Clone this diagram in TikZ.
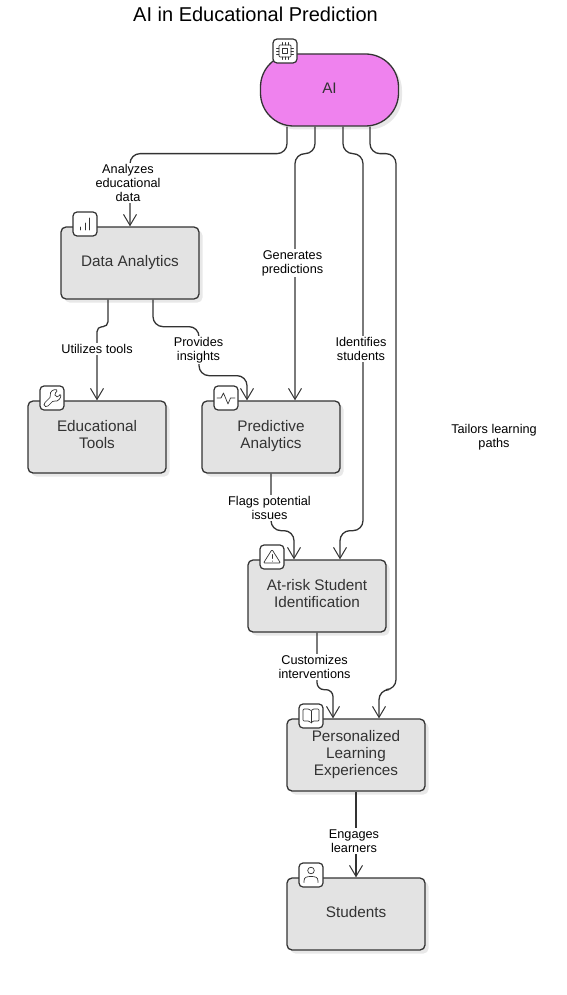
\documentclass[tikz,border=0pt]{standalone}
\usepackage{fontspec}
\setmainfont{Liberation Sans}
\usepackage{xcolor}
\usetikzlibrary{arrows.meta,shadows}
\definecolor{boxgray}{RGB}{227,227,227}
\definecolor{aipink}{RGB}{239,130,238}
\definecolor{linedark}{RGB}{51,51,51}
\newcommand{\boxtext}[1]{\raisebox{1.2pt}{\begin{tabular}{@{}c@{}}#1\end{tabular}}}

\begin{document}
\begin{tikzpicture}[x=1pt,y=-1pt,
    block/.style={rectangle, draw=linedark, line width=1.3pt, fill=boxgray, text=linedark, text centered, align=center, rounded corners=5pt, minimum width=138pt, minimum height=72pt, inner sep=0pt, font=\fontsize{15.3}{17}\selectfont, drop shadow={shadow xshift=3.5pt, shadow yshift=-3.5pt, fill=black!9, opacity=1}},
    aiblock/.style={block, fill=aipink, rounded corners=33pt},
    iconbox/.style={rectangle, draw=linedark, line width=1.2pt, fill=white, rounded corners=4pt, minimum size=24pt, inner sep=0pt},
    icon/.style={draw=linedark, line width=0.7pt, line cap=round, line join=round},
    arrow/.style={draw=linedark, line width=1.3pt, rounded corners=10pt, -{Straight Barb[length=11pt,width=13pt,line width=1pt]}},
    edgelabel/.style={fill=white, align=center, inner sep=1pt, text=black, font=\fontsize{12.7}{14.2}\selectfont}
]
\useasboundingbox (0,0) rectangle (566,995);

\node[font=\fontsize{20}{23}\selectfont] (title) at (255.5,14) {AI in Educational Prediction};

\node[aiblock] (ai) at (329.5,90) {\boxtext{AI}};
\node[block] (analytics) at (130,263) {\boxtext{Data Analytics}};
\node[block] (tools) at (97,437) {\boxtext{Educational\\Tools}};
\node[block] (predictive) at (271,437) {\boxtext{Predictive\\Analytics}};
\node[block] (atrisk) at (317,596) {\boxtext{At-risk Student\\Identification}};
\node[block] (learning) at (356,755) {\boxtext{Personalized\\Learning\\Experiences}};
\node[block] (students) at (356,914) {\boxtext{Students}};

\draw[arrow] ([xshift=-42.5pt]ai.south) -- ++(0,27) -| (analytics.north);
\draw[arrow] ([xshift=-14.5pt]ai.south) -- ++(0,27) -| ([xshift=24pt]predictive.north);
\draw[arrow] ([xshift=13.5pt]ai.south) -- ++(0,27) -| ++(20,377) -| ([xshift=23pt]atrisk.north);
\draw[arrow] ([xshift=40.5pt]ai.south) -- ++(0,27) -| ++(26,536) -| ([xshift=23pt]learning.north);
\draw[arrow, rounded corners=5pt] ([xshift=-22pt]analytics.south) -- ++(0,27) -| (tools.north);
\draw[arrow] ([xshift=23pt]analytics.south) -- ++(0,27) -| ++(46,49) -| ([xshift=-24pt]predictive.north);
\draw[arrow] (predictive.south) -- ++(0,57) -| ([xshift=-23pt]atrisk.north);
\draw[arrow, rounded corners=7pt] (atrisk.south) -- ++(0,57) -| ([xshift=-23pt]learning.north);
\draw[arrow] (learning.south) -- (students.north);

\node[edgelabel] (lblanalyzes) at (128,183) {Analyzes\\educational\\data};
\node[edgelabel] (lblgenerates) at (292.5,263) {Generates\\predictions};
\node[edgelabel] (lblidentifies) at (361,349) {Identifies\\students};
\node[edgelabel] (lbltailors) at (494,437) {Tailors learning\\paths};
\node[edgelabel] (lblutilizes) at (97,349) {Utilizes tools};
\node[edgelabel] (lblprovides) at (198.5,350) {Provides\\insights};
\node[edgelabel] (lblflags) at (269.5,508) {Flags potential\\issues};
\node[edgelabel] (lblcustomizes) at (314.5,667) {Customizes\\interventions};
\node[edgelabel] (lblengages) at (354,841) {Engages\\learners};

\node[iconbox] (aiicon) at (285,51) {};
\node[iconbox] (analyticsicon) at (85,224) {};
\node[iconbox] (toolsicon) at (52,398) {};
\node[iconbox] (predictiveicon) at (226,398) {};
\node[iconbox] (atriskicon) at (272,557) {};
\node[iconbox] (learningicon) at (311,716) {};
\node[iconbox] (studentsicon) at (311,875) {};

% chip
\begin{scope}[shift={(aiicon.center)}]
\draw[icon, rounded corners=1pt] (-6,-6) rectangle (6,6);
\draw[icon] (-2.5,-2.5) rectangle (2.5,2.5);
\foreach \p in {-3,0,3} {
    \draw[icon] (\p,-8.5) -- (\p,-6) (\p,6) -- (\p,8.5) (-8.5,\p) -- (-6,\p) (6,\p) -- (8.5,\p);
}
\end{scope}
% bars
\begin{scope}[shift={(analyticsicon.center)}]
\draw[icon] (-4.5,6) -- (-4.5,3) (0,6) -- (0,-1) (4.5,6) -- (4.5,-6);
\end{scope}
% wrench
\begin{scope}[shift={(toolsicon.center)}]
\draw[icon, rounded corners=1.5pt] (-8,5.5) -- (-1,-1.5) .. controls (-3,-6) and (2,-9.5) .. (6,-7.5) -- (2.5,-4.5) -- (3.5,-1.5) -- (6.5,-1) -- (8.5,-4.5) .. controls (9.5,0) and (5.5,4) .. (1.5,2.5) -- (-5,9) -- (-8,8) -- cycle;
\end{scope}
% pulse
\begin{scope}[shift={(predictiveicon.center)}]
\draw[icon] (-9,0) -- (-5,0) -- (-2.5,-5) -- (2,6) -- (4.5,0) -- (9,0);
\end{scope}
% warning
\begin{scope}[shift={(atriskicon.center)}]
\draw[icon, rounded corners=1pt] (0,-7.5) -- (8.5,6) -- (-8.5,6) -- cycle;
\draw[icon] (0,-2.5) -- (0,1.5) (0,4) -- (0,4.2);
\end{scope}
% book
\begin{scope}[shift={(learningicon.center)}]
\draw[icon, rounded corners=1pt] (0,-5) -- (-2,-7) -- (-8,-7) -- (-8,5) -- (-2,5) -- (0,7) -- (2,5) -- (8,5) -- (8,-7) -- (2,-7) -- cycle;
\draw[icon] (0,-5) -- (0,7);
\end{scope}
% person
\begin{scope}[shift={(studentsicon.center)}]
\draw[icon] (0,-4.5) circle (3.3pt);
\draw[icon] (-7,7.5) -- (-7,6) .. controls (-7,2) and (-4,1.5) .. (0,1.5) .. controls (4,1.5) and (7,2) .. (7,6) -- (7,7.5);
\end{scope}

\end{tikzpicture}
\end{document}
